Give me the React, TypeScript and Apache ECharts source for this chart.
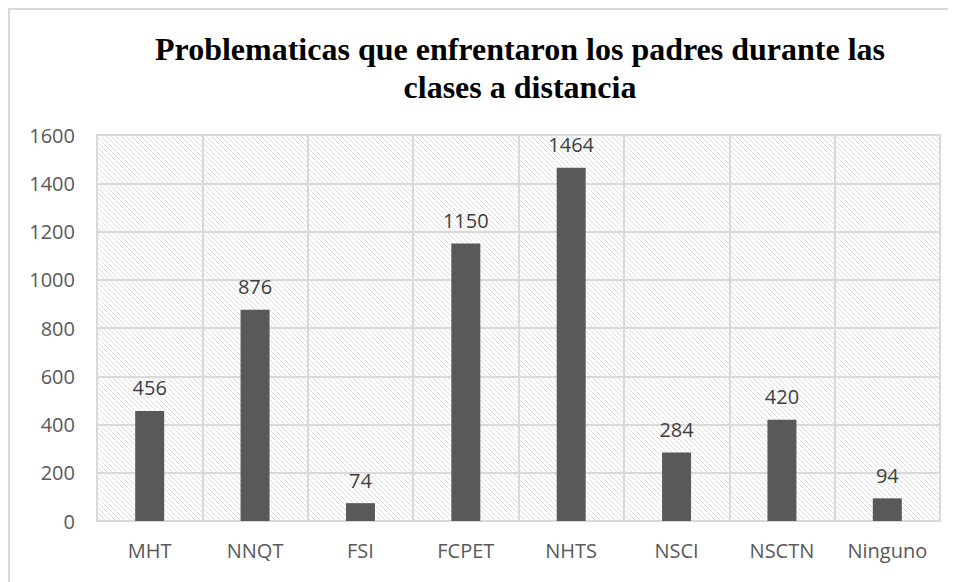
import React, { useEffect, useRef } from "react";
import * as echarts from "echarts";

const categories = ["MHT", "NNQT", "FSI", "FCPET", "NHTS", "NSCI", "NSCTN", "Ninguno"];
const values = [456, 876, 74, 1150, 1464, 284, 420, 94];
const titleText = "Problematicas que enfrentaron los padres durante las\nclases a distancia";

function makeHatch(): HTMLCanvasElement {
  const p = 5;
  const c = document.createElement("canvas");
  c.width = p;
  c.height = p;
  const ctx = c.getContext("2d")!;
  ctx.fillStyle = "#ffffff";
  ctx.fillRect(0, 0, p, p);
  ctx.fillStyle = "#dedede";
  for (let i = 0; i < p; i++) ctx.fillRect(i, i, 1, 1);
  return c;
}

export default function App() {
  const ref = useRef<HTMLDivElement>(null);
  useEffect(() => {
    if (!ref.current) return;
    const chart = echarts.init(ref.current, undefined, { renderer: "svg" });
    const hatch = makeHatch();
    chart.setOption({
      animation: false,
      backgroundColor: "#ffffff",
      title: {
        text: titleText,
        left: 507,
        top: 17,
        textAlign: "center",
        textStyle: {
          fontFamily: "Liberation Serif",
          fontWeight: "bold",
          fontSize: 32,
          lineHeight: 38,
          color: "#000000",
        },
      },
      graphic: [
        {
          type: "rect",
          shape: { x: 1, y: 1, width: 2000, height: 2000 },
          style: { fill: "none", stroke: "#d9d9d9", lineWidth: 2 },
          silent: true,
          z: -1,
        },
      ],
      grid: {
        left: 89,
        right: 16,
        top: 127,
        bottom: 61,
        show: true,
        backgroundColor: {
          image: hatch,
          repeat: "repeat",
          imageWidth: 5,
          imageHeight: 5,
        } as any,
        borderColor: "#d9d9d9",
        borderWidth: 2,
      },
      xAxis: {
        type: "category",
        data: categories,
        axisLine: { show: true, lineStyle: { color: "#d9d9d9", width: 2 } },
        axisTick: { show: false },
        splitLine: { show: true, lineStyle: { color: "#d9d9d9", width: 2 } },
        axisLabel: {
          color: "#595959",
          fontFamily: "Open Sans",
          fontSize: 20,
          margin: 19,
        },
      },
      yAxis: {
        type: "value",
        min: 0,
        max: 1600,
        interval: 200,
        axisLine: { show: false },
        axisTick: { show: false },
        splitLine: { show: true, lineStyle: { color: "#d9d9d9", width: 2 } },
        axisLabel: {
          color: "#595959",
          fontFamily: "Open Sans",
          fontSize: 20,
          margin: 22,
          formatter: (v: number) => String(v),
        },
      },
      series: [
        {
          type: "bar",
          data: values,
          barWidth: 29,
          itemStyle: { color: "#595959" },
          label: {
            show: true,
            position: "top",
            distance: 13,
            color: "#404040",
            fontFamily: "Open Sans",
            fontSize: 20,
          },
        },
      ],
    });
    return () => chart.dispose();
  }, []);
  return <div ref={ref} style={{ width: 948, height: 574 }} />;
}
